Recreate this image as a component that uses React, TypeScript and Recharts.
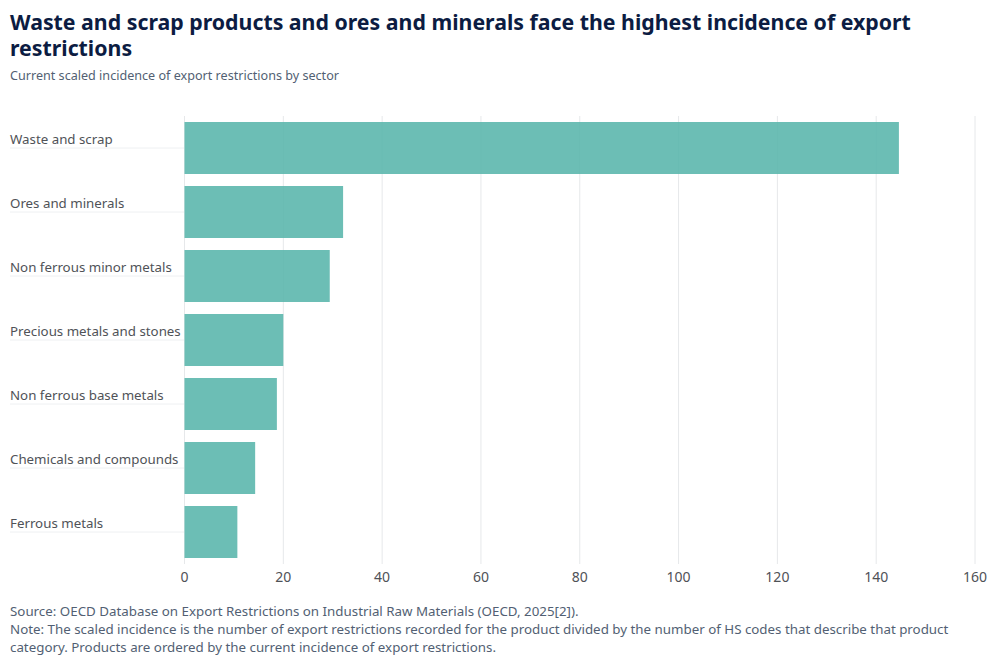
import { BarChart, Bar, XAxis, YAxis, CartesianGrid } from "recharts";

const sectors = [
  "Waste and scrap",
  "Ores and minerals",
  "Non ferrous minor metals",
  "Precious metals and stones",
  "Non ferrous base metals",
  "Chemicals and compounds",
  "Ferrous metals",
];
const incidence = [144.6, 32.1, 29.4, 20, 18.7, 14.3, 10.7];
const xTicks = [0, 20, 40, 60, 80, 100, 120, 140, 160];

const data = sectors.map((name, i) => ({ name, value: incidence[i] }));

const font = "'Noto Sans', sans-serif";

function SectorTick({ y, payload }: any) {
  return (
    <g>
      <line x1={10} x2={184} y1={y} y2={y} stroke="#eef0f2" strokeWidth={1} />
      <text x={10} y={y - 4.3} fontSize={13.3} fontFamily={font} fill="#4f5257">
        {payload.value}
      </text>
    </g>
  );
}

export default function App() {
  return (
    <div style={{ position: "absolute", left: 0, top: 0, width: 1000, height: 667, background: "#fff", fontFamily: font }}>
      <div style={{ position: "absolute", left: 10, top: 9, width: 960, fontSize: 21.3, lineHeight: "26px", fontWeight: 700, color: "#0c1c42" }}>
        Waste and scrap products and ores and minerals face the highest incidence of export restrictions
      </div>
      <div style={{ position: "absolute", left: 10, top: 67, fontSize: 12.6, lineHeight: "18px", color: "#525f73" }}>
        Current scaled incidence of export restrictions by sector
      </div>
      <div style={{ position: "absolute", left: 0, top: 110 }}>
        <BarChart
          width={1000}
          height={485}
          data={data}
          layout="vertical"
          barCategoryGap={6}
          margin={{ top: 6, right: 25, bottom: 1, left: 0 }}
        >
          <CartesianGrid horizontal={false} stroke="#e6e8ea" />
          <XAxis
            type="number"
            domain={[0, 160]}
            ticks={xTicks}
            axisLine={false}
            tickLine={false}
            tick={{ fontSize: 14, fontFamily: font, fill: "#4f5257" }}
          />
          <YAxis
            type="category"
            dataKey="name"
            width={184.5}
            axisLine={false}
            tickLine={false}
            tick={<SectorTick />}
            interval={0}
          />
          <Bar dataKey="value" fill="#58b5ab" fillOpacity={0.88} isAnimationActive={false} />
        </BarChart>
      </div>
      <div style={{ position: "absolute", left: 10, top: 602, width: 970, fontSize: 13.33, lineHeight: "18px", color: "#525f73" }}>
        Source: OECD Database on Export Restrictions on Industrial Raw Materials (OECD, 2025[2]).
        <br />
        Note: The scaled incidence is the number of export restrictions recorded for the product divided by the number of HS codes that describe that product category. Products are ordered by the current incidence of export restrictions.
      </div>
    </div>
  );
}
